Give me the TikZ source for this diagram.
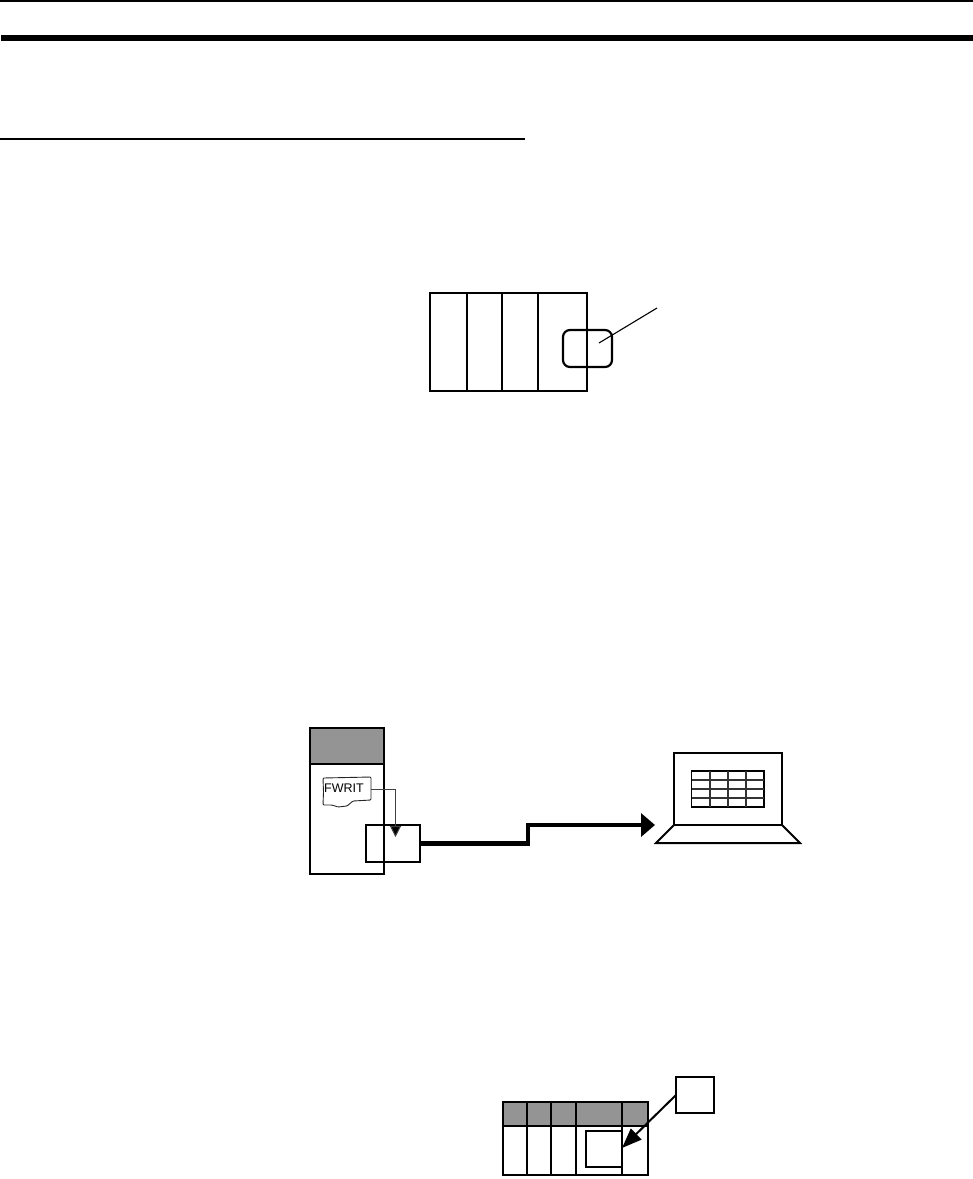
\documentclass[tikz,border=0pt]{standalone}
\usepackage{fontspec}
\setmainfont{Liberation Sans}
\usetikzlibrary{arrows.meta}
\definecolor{plcgray}{gray}{0.58}
\tikzset{
  rule/.style={draw=black,line cap=butt},
  thickarrow/.style={line width=4.6pt,-{Triangle[length=14pt,width=23pt]},line join=miter},
  thinarrow/.style={line width=1pt,draw=black!75,-{Triangle[length=11pt,width=11pt,fill=black]}},
  kitearrow/.style={line width=2pt,-{Triangle[length=20pt,width=15pt]}},
  gridline/.style={line width=1.1pt,draw=black!80},
  div/.style={line width=1.8pt}
}
% \boxat{name}{x1}{y1}{x2}{y2}{options}
\newcommand{\boxat}[6]{%
  \pgfmathsetmacro{\bw}{#4-#2}\pgfmathsetmacro{\bh}{#5-#3}%
  \pgfmathsetmacro{\cx}{(#4+#2)/2}\pgfmathsetmacro{\cy}{(#5+#3)/2}%
  \node[draw=black,line width=2pt,inner sep=0pt,outer sep=0pt,minimum width=\bw pt,minimum height=\bh pt,#6] (#1) at (\cx,\cy) {};}
\begin{document}
\begin{tikzpicture}[x=1pt,y=-1pt]
\useasboundingbox (0,0) rectangle (973,1179);
\fill[white] (0,0) rectangle (973,1179);
% page rules
\coordinate (r1a) at (0,1); \coordinate (r1b) at (973,1);
\coordinate (r2a) at (1,38); \coordinate (r2b) at (973,38);
\coordinate (r3a) at (0,139); \coordinate (r3b) at (525,139);
\draw[rule,line width=2.2pt] (r1a) -- (r1b);
\draw[rule,line width=6.2pt] (r2a) -- (r2b);
\draw[rule,line width=2.2pt] (r3a) -- (r3b);

% top figure: rack
\boxat{rack}{430}{293}{587}{391}{}
\coordinate (d1a) at (467,293); \coordinate (d1b) at (467,391);
\coordinate (d2a) at (502,293); \coordinate (d2b) at (502,391);
\coordinate (d3a) at (538,293); \coordinate (d3b) at (538,391);
\draw[div] (d1a) -- (d1b); \draw[div] (d2a) -- (d2b); \draw[div] (d3a) -- (d3b);
\boxat{card}{563}{330}{612}{367}{rounded corners=7pt,line width=2.2pt}
\coordinate (lead) at (657,308); \coordinate (leadend) at (599,343);
\draw[line width=1.1pt] (lead) -- (leadend);

% middle figure: PLC unit
\fill[plcgray] (310,728) rectangle (383.5,764);
\boxat{unit}{310}{728}{383.5}{874}{}
\coordinate (ga) at (310,764); \coordinate (gb) at (383.5,764);
\draw[line width=1.2pt] (ga) -- (gb);
% FWRIT instruction sheet
\node[inner sep=0pt,font=\fontsize{12.5}{12.5}\selectfont] (fw) at (344,788.5) {FWRIT};
\draw[line width=0.9pt,draw=black!85,rounded corners=1pt]
  (323,778) -- (371,777) -- (371,800) -- (353,801) -- (347,806) -- (338,807) -- (332,805) -- (323,805) -- (323.5,792) -- cycle;
\coordinate (fwe) at (371,789);
\boxat{mem}{365.5}{825}{420}{862}{}
\coordinate (fwtip) at (395.5,837);
\draw[thinarrow] (fwe) -| (fwtip);

% laptop
\boxat{screen}{674}{753}{782}{825}{}
\draw[line width=2pt,line join=miter] (screen.south west) -- (656,843) -- (800,843) -- (screen.south east);
\boxat{table}{691.5}{771}{764}{807}{line width=1.1pt}
\foreach \gx in {710,728,746} \draw[gridline] (\gx,771) -- (\gx,807);
\foreach \gy in {780,789,798} \draw[gridline] (691.5,\gy) -- (764,\gy);
% data arrow
\coordinate (bend1) at (528,843.3);
\coordinate (bend2) at (528,825);
\coordinate (laptip) at (655,825);
\draw[thickarrow] (mem.east |- bend1) -- (bend1) -- (bend2) -- (laptip);

% bottom figure
\fill[plcgray] (503,1102) rectangle (648,1126);
\boxat{rack2}{503}{1102}{648}{1175}{line width=1.7pt}
\coordinate (ha) at (503,1126); \coordinate (hb) at (648,1126);
\draw[div] (ha) -- (hb);
\foreach \dx in {527,551,576,622} \draw[div] (\dx,1102) -- (\dx,1175);
\boxat{slot}{586}{1131}{622}{1167}{line width=2.2pt}
\boxat{cardb}{676}{1077}{714}{1113}{line width=2.2pt}
\draw[kitearrow] (cardb.west) -- (slot.east |- 0,1148);
\end{tikzpicture}
\end{document}
